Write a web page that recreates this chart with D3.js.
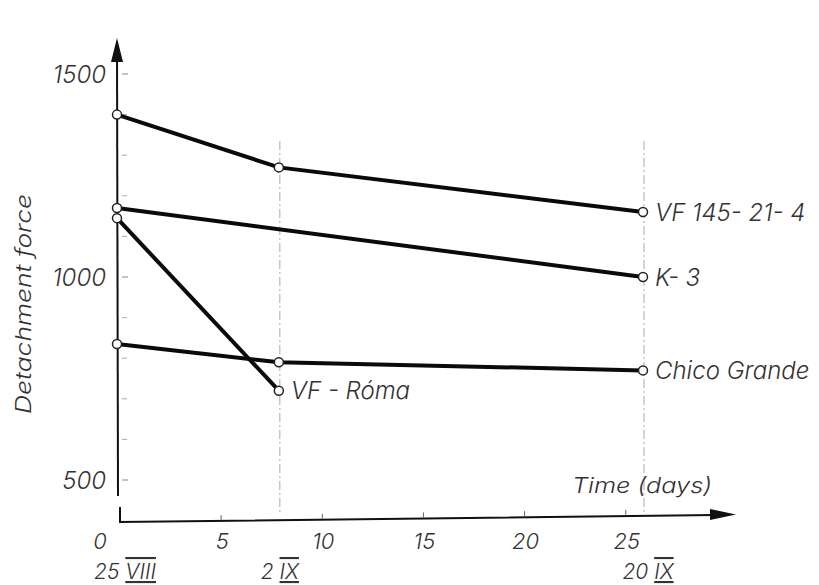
<!DOCTYPE html>
<html>
<head>
<meta charset="utf-8">
<script src="https://cdn.jsdelivr.net/npm/d3@7"></script>
<style>
  body { margin: 0; background: #fff; }
  svg text { font-family: "Inter", "DejaVu Sans", sans-serif; font-weight: 300; font-style: italic; fill: #333; }
</style>
</head>
<body>
<div id="chart"></div>
<script>
// days since 25 VIII and detachment force readings
const vf145Days = [0, 8, 26];
const vf145Force = [1400, 1270, 1160];
const k3Days = [0, 26];
const k3Force = [1170, 1000];
const romaDays = [0, 8];
const romaForce = [1145, 720];
const chicoDays = [0, 8, 26];
const chicoForce = [835, 790, 770];

const seriesNames = ["VF 145- 21- 4", "K- 3", "VF - Róma", "Chico Grande"];
const xTicks = [0, 5, 10, 15, 20, 25];
const yTicks = [500, 1000, 1500];
const yMinor = [600, 700, 800, 900, 1100, 1200, 1300, 1400];
const dateDays = [0, 8, 26];
const dateLabels = [["25 ", "VIII"], ["2 ", "IX"], ["20 ", "IX"]];
const guideDays = [8, 26];

const width = 819, height = 585;

const x = d3.scaleLinear().domain([0, 26]).range([117, 643]);
const y = d3.scaleLinear().domain([500, 1500]).range([480, 74]);

const svg = d3.select("#chart").append("svg")
    .attr("width", width)
    .attr("height", height);

// dash-dot guides at the measuring days
svg.selectAll("line.guide")
    .data(guideDays)
    .enter()
    .append("line")
    .attr("x1", d => x(d) + 1).attr("x2", d => x(d) + 1)
    .attr("y1", y(1335)).attr("y2", 512)
    .attr("stroke", "#aaa")
    .attr("stroke-width", 1)
    .attr("stroke-dasharray", "9,3,2,3");

// y axis with arrow
svg.append("line")
    .attr("x1", 117).attr("y1", 50).attr("x2", 118).attr("y2", 496)
    .attr("stroke", "#111").attr("stroke-width", 2);
svg.append("path")
    .attr("d", "M117,38 L111,62 L123,62 Z")
    .attr("fill", "#111");

svg.selectAll("line.minor")
    .data(yMinor)
    .enter()
    .append("line")
    .attr("x1", 122).attr("x2", 127)
    .attr("y1", d => y(d)).attr("y2", d => y(d))
    .attr("stroke", "#aaa").attr("stroke-width", 1);

svg.selectAll("line.ytick")
    .data(yTicks)
    .enter()
    .append("line")
    .attr("x1", 122).attr("x2", 128)
    .attr("y1", d => y(d)).attr("y2", d => y(d))
    .attr("stroke", "#888").attr("stroke-width", 1);

svg.selectAll("text.ylabel")
    .data(yTicks)
    .enter()
    .append("text")
    .text(d => d)
    .attr("x", 106)
    .attr("y", d => y(d))
    .attr("dy", "0.36em")
    .attr("text-anchor", "end")
    .attr("font-size", 24);

svg.append("text")
    .text("Detachment force")
    .attr("transform", "translate(31,304) rotate(-90)")
    .attr("text-anchor", "middle")
    .attr("font-size", 22)
    .attr("textLength", 220)
    .attr("lengthAdjust", "spacingAndGlyphs");

// x axis with arrow (slightly tilted like the print)
svg.append("path")
    .attr("d", "M120,507 L120,522 L715,515")
    .attr("fill", "none")
    .attr("stroke", "#111").attr("stroke-width", 2);
svg.append("path")
    .attr("d", "M736,514.5 L710,509 L710,520 Z")
    .attr("fill", "#111");

svg.selectAll("line.xtick")
    .data(xTicks.slice(1))
    .enter()
    .append("line")
    .attr("x1", d => x(d) + 3).attr("x2", d => x(d) + 3)
    .attr("y1", d => 521.5 - d * 0.27 - 5).attr("y2", d => 521.5 - d * 0.27)
    .attr("stroke", "#666").attr("stroke-width", 1);

svg.selectAll("text.xlabel")
    .data(xTicks)
    .enter()
    .append("text")
    .text(d => d)
    .attr("x", d => d === 0 ? x(d) - 17 : x(d) + 4)
    .attr("y", 549)
    .attr("text-anchor", "middle")
    .attr("font-size", 22);

svg.append("text")
    .text("Time (days)")
    .attr("x", 572)
    .attr("y", 493)
    .attr("font-size", 22)
    .attr("textLength", 140)
    .attr("lengthAdjust", "spacingAndGlyphs");

const dates = svg.selectAll("text.date")
    .data(dateDays)
    .enter()
    .append("text")
    .attr("x", d => x(d) + (d === 0 ? 8 : d === 8 ? 1 : 5))
    .attr("y", 579)
    .attr("text-anchor", "middle")
    .attr("font-size", 21);
dates.append("tspan").text((d, i) => dateLabels[i][0]);
dates.append("tspan")
    .text((d, i) => dateLabels[i][1])
    .style("text-decoration", "underline overline");

// series
const series = [
    { name: seriesNames[0], days: vf145Days, force: vf145Force },
    { name: seriesNames[1], days: k3Days, force: k3Force },
    { name: seriesNames[2], days: romaDays, force: romaForce },
    { name: seriesNames[3], days: chicoDays, force: chicoForce }
];

const line = d3.line()
    .x(p => x(p[0]))
    .y(p => y(p[1]));

series.forEach(function (s) {
    const pts = s.days.map((d, i) => [d, s.force[i]]);
    svg.append("path")
        .datum(pts)
        .attr("d", line)
        .attr("fill", "none")
        .attr("stroke", "#0a0a0a")
        .attr("stroke-width", 4);
    svg.selectAll(null)
        .data(pts)
        .enter()
        .append("circle")
        .attr("cx", p => x(p[0]))
        .attr("cy", p => y(p[1]))
        .attr("r", 4.5)
        .attr("fill", "#fff")
        .attr("stroke", "#222")
        .attr("stroke-width", 1.5);
    const last = pts[pts.length - 1];
    svg.append("text")
        .text(s.name)
        .attr("x", x(last[0]) + 12)
        .attr("y", y(last[1]))
        .attr("dy", "0.36em")
        .attr("font-size", 24);
});
</script>
</body>
</html>
